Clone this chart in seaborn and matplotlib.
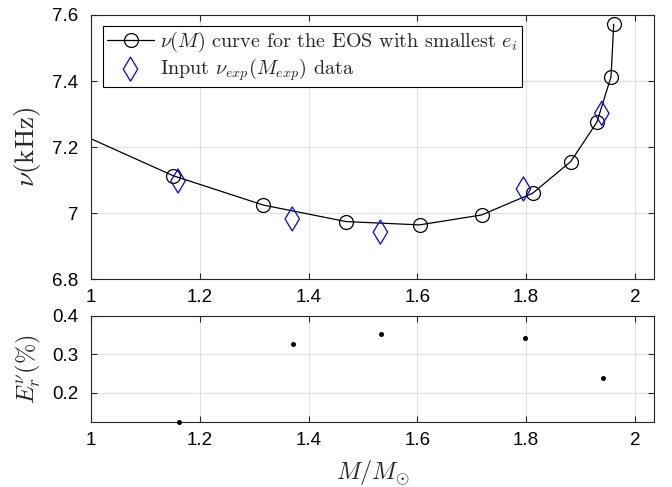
import matplotlib
matplotlib.use("Agg")
import matplotlib.pyplot as plt
import matplotlib.ticker as mticker
import seaborn as sns
import pandas as pd

# nu(M) curve for EOS with smallest e_i (first point lies left of the axis, clipped)
curve_M = [0.95, 1.151, 1.317, 1.469, 1.604, 1.718, 1.812, 1.882, 1.930, 1.956, 1.961]
curve_nu = [7.262, 7.113, 7.024, 6.974, 6.964, 6.994, 7.060, 7.156, 7.275, 7.413, 7.572]

# Input data
exp_M = [1.160, 1.370, 1.532, 1.795, 1.939]
exp_nu = [7.097, 6.982, 6.942, 7.073, 7.302]

# Relative error (%)
err_M = [1.162, 1.371, 1.533, 1.797, 1.941]
err_val = [0.126, 0.328, 0.353, 0.343, 0.238]

x_ticks = [1, 1.2, 1.4, 1.6, 1.8, 2]
top_yticks = [6.8, 7.0, 7.2, 7.4, 7.6]
bot_yticks = [0.2, 0.3, 0.4]

sns.set_style("ticks")
plt.rcParams["font.family"] = ["Liberation Sans", "DejaVu Sans"]
plt.rcParams["mathtext.fontset"] = "cm"

df_curve = pd.DataFrame({"M": curve_M, "nu": curve_nu})
df_exp = pd.DataFrame({"M": exp_M, "nu": exp_nu})
df_err = pd.DataFrame({"M": err_M, "E": err_val})

fig = plt.figure(figsize=(6.72, 4.87), dpi=100)
ax1 = fig.add_axes([0.1354, 0.4271, 0.8378, 0.5421])
ax2 = fig.add_axes([0.1354, 0.1335, 0.8378, 0.2183])

sns.lineplot(data=df_curve, x="M", y="nu", ax=ax1, sort=False, color="black",
             linewidth=0.9, marker="o", markersize=10, markerfacecolor="none",
             markeredgecolor="black", markeredgewidth=0.9,
             label=r"$\nu(M)$ curve for the EOS with smallest $e_i$")
sns.scatterplot(data=df_exp, x="M", y="nu", ax=ax1, marker="d", s=150,
                facecolor="none", edgecolor="blue", linewidth=0.9,
                label=r"Input $\nu_{exp}(M_{exp})$ data", zorder=5)

sns.scatterplot(data=df_err, x="M", y="E", ax=ax2, color="black", s=13,
                edgecolor="black", linewidth=0, clip_on=False, zorder=5)

for ax in (ax1, ax2):
    ax.set_xlim(1, 2.035)
    ax.set_xticks(x_ticks)
    ax.xaxis.set_major_formatter(mticker.FormatStrFormatter("%g"))
    ax.yaxis.set_major_formatter(mticker.FormatStrFormatter("%g"))
    ax.grid(True, color="#dfdfdf", linewidth=0.8)
    ax.set_axisbelow(True)
    ax.tick_params(direction="in", top=True, right=True, length=4, width=0.8,
                   labelsize=13.5, colors="#262626", labelcolor="black")
    ax.tick_params(axis="y", pad=9)
    ax.tick_params(axis="x", pad=7)
    for s in ax.spines.values():
        s.set_visible(True)
        s.set_color("#262626")
        s.set_linewidth(0.8)

ax1.set_ylim(6.8, 7.6)
ax1.set_yticks(top_yticks)
ax2.set_ylim(0.125, 0.4)
ax2.set_yticks(bot_yticks)

ax1.set_xlabel("")
ax1.set_ylabel(r"$\nu(\mathrm{kHz})$", fontsize=19.5)
ax1.yaxis.set_label_coords(-0.085, 0.5)
ax2.set_ylabel(r"$E_r^{\nu}(\%)$", fontsize=17.5)
ax2.yaxis.set_label_coords(-0.085, 0.5)
ax2.set_xlabel(r"$M/M_{\odot}$", fontsize=17.5)
ax2.xaxis.set_label_coords(0.5, -0.34)

leg = ax1.legend(loc="upper left", bbox_to_anchor=(0.021, 0.958),
                 prop={"family": "cmr10", "size": 14.5}, frameon=True,
                 fancybox=False, edgecolor="black", framealpha=1,
                 borderpad=0.2, handlelength=2.35, handletextpad=0.3,
                 labelspacing=0.1, borderaxespad=0)
leg.get_frame().set_linewidth(0.8)

fig.savefig("out.png", dpi=100)
